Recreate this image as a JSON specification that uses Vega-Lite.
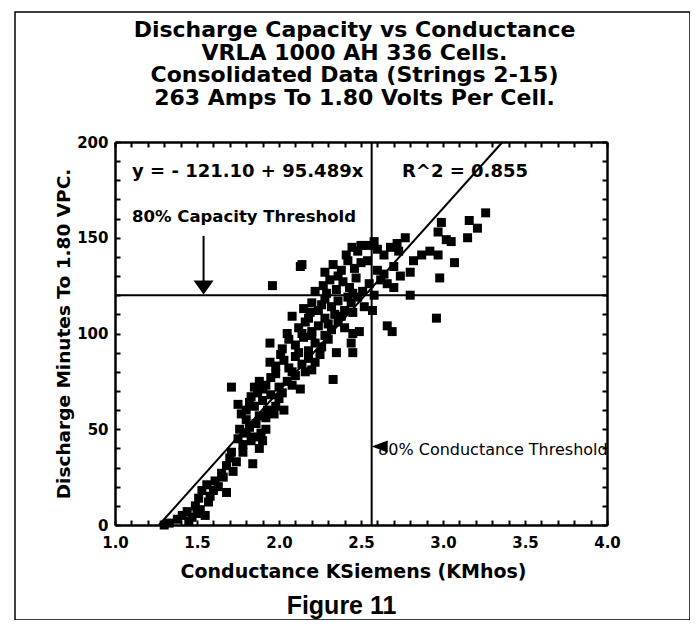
{
  "$schema": "https://vega.github.io/schema/vega-lite/v6.json",
  "width": 675,
  "height": 608,
  "autosize": {"type": "none"},
  "padding": {"left": 15, "top": 12, "right": 0, "bottom": 0},
  "background": "white",
  "config": {
    "font": "DejaVu Sans",
    "view": {"stroke": "black", "strokeWidth": 1.5},
    "axis": {"grid": false, "domainColor": "black", "domainWidth": 2.5, "ticks": true, "tickColor": "black", "tickWidth": 2, "labelColor": "black", "titleColor": "black", "labelFlush": false, "labelOverlap": false}
  },
  "title": {
    "text": ["Discharge Capacity vs Conductance", "VRLA 1000 AH 336 Cells.", "Consolidated Data (Strings 2-15)", "263 Amps To 1.80 Volts Per Cell."],
    "anchor": "middle", "frame": "group", "offset": -98, "dx": 2,
    "font": "DejaVu Sans", "fontSize": 22, "fontWeight": "bold", "lineHeight": 22.7, "color": "black"
  },
  "datasets": {
    "points": [
      {"c":1.30,"m":0},{"c":1.33,"m":1},{"c":1.38,"m":3},{"c":1.41,"m":5},{"c":1.44,"m":7},{"c":1.47,"m":4},{"c":1.50,"m":6},{"c":1.52,"m":8},{"c":1.55,"m":5},{"c":1.45,"m":2},{"c":1.49,"m":10},
      {"c":1.51,"m":14},{"c":1.53,"m":18},{"c":1.56,"m":21},{"c":1.58,"m":15},{"c":1.60,"m":18},{"c":1.57,"m":12},{"c":1.63,"m":20},{"c":1.68,"m":17},{"c":1.61,"m":23},
      {"c":1.65,"m":27},{"c":1.68,"m":31},{"c":1.70,"m":35},{"c":1.72,"m":28},{"c":1.66,"m":25},{"c":1.74,"m":33},{"c":1.84,"m":32},{"c":1.78,"m":38},{"c":1.71,"m":38},
      {"c":1.75,"m":45},{"c":1.78,"m":42},{"c":1.80,"m":48},{"c":1.82,"m":51},{"c":1.85,"m":46},{"c":1.88,"m":40},{"c":1.90,"m":44},{"c":1.86,"m":53},{"c":1.76,"m":50},{"c":1.92,"m":50},{"c":1.83,"m":44},{"c":1.80,"m":55},{"c":1.89,"m":48},
      {"c":1.77,"m":58},{"c":1.75,"m":63},{"c":1.80,"m":60},{"c":1.85,"m":62},{"c":1.88,"m":57},{"c":1.90,"m":65},{"c":1.93,"m":60},{"c":1.95,"m":68},{"c":1.98,"m":62},{"c":2.00,"m":66},{"c":1.83,"m":67},{"c":1.87,"m":69},{"c":1.92,"m":56},{"c":2.03,"m":60},{"c":1.82,"m":64},{"c":1.97,"m":58},
      {"c":1.71,"m":72},{"c":1.85,"m":72},{"c":1.88,"m":75},{"c":1.92,"m":73},{"c":1.95,"m":77},{"c":2.00,"m":72},{"c":2.05,"m":75},{"c":2.10,"m":78},{"c":2.13,"m":71},{"c":1.98,"m":79},{"c":2.02,"m":69},{"c":1.90,"m":71},{"c":2.08,"m":73},
      {"c":1.945,"m":85},{"c":1.98,"m":83},{"c":2.03,"m":86},{"c":2.06,"m":82},{"c":2.10,"m":88},{"c":2.14,"m":84},{"c":2.18,"m":87},{"c":2.20,"m":81},{"c":2.25,"m":89},{"c":2.33,"m":76},{"c":2.08,"m":80},{"c":2.22,"m":85},{"c":2.01,"m":89},{"c":2.16,"m":80},
      {"c":1.945,"m":95},{"c":2.02,"m":92},{"c":2.06,"m":97},{"c":2.10,"m":94},{"c":2.15,"m":98},{"c":2.18,"m":91},{"c":2.22,"m":95},{"c":2.26,"m":93},{"c":2.30,"m":97},{"c":2.35,"m":90},{"c":2.12,"m":90},{"c":2.28,"m":99},{"c":2.05,"m":100},{"c":2.20,"m":99},{"c":2.44,"m":95},{"c":2.45,"m":90},
      {"c":2.08,"m":109},{"c":2.12,"m":103},{"c":2.16,"m":106},{"c":2.20,"m":101},{"c":2.24,"m":104},{"c":2.28,"m":108},{"c":2.32,"m":102},{"c":2.36,"m":106},{"c":2.40,"m":103},{"c":2.45,"m":100},{"c":2.49,"m":101},{"c":2.18,"m":108},{"c":2.30,"m":105},{"c":2.45,"m":111},{"c":2.14,"m":100},{"c":2.38,"m":109},
      {"c":2.15,"m":113},{"c":2.20,"m":116},{"c":2.24,"m":112},{"c":2.28,"m":118},{"c":2.32,"m":114},{"c":2.36,"m":117},{"c":2.40,"m":112},{"c":2.44,"m":116},{"c":2.48,"m":119},{"c":2.52,"m":114},{"c":2.57,"m":112},{"c":2.34,"m":110},{"c":2.26,"m":115},{"c":2.19,"m":111},{"c":2.42,"m":119},
      {"c":2.22,"m":122},{"c":2.27,"m":125},{"c":2.31,"m":128},{"c":2.35,"m":123},{"c":2.39,"m":127},{"c":2.43,"m":124},{"c":2.47,"m":129},{"c":2.51,"m":122},{"c":2.55,"m":126},{"c":2.58,"m":120},{"c":2.62,"m":128},{"c":2.66,"m":126},{"c":2.70,"m":124},{"c":2.29,"m":121},{"c":2.45,"m":121},
      {"c":2.13,"m":135},{"c":2.28,"m":132},{"c":2.33,"m":136},{"c":2.38,"m":133},{"c":2.42,"m":138},{"c":2.46,"m":134},{"c":2.50,"m":137},{"c":2.54,"m":138},{"c":2.60,"m":133},{"c":2.64,"m":131},{"c":2.70,"m":135},{"c":2.74,"m":130},{"c":2.80,"m":132},{"c":2.82,"m":138},{"c":2.36,"m":130},
      {"c":2.41,"m":141},{"c":2.445,"m":145},{"c":2.50,"m":146},{"c":2.55,"m":146},{"c":2.60,"m":144},{"c":2.64,"m":141},{"c":2.68,"m":145},{"c":2.72,"m":147},{"c":2.77,"m":150},{"c":2.73,"m":143},{"c":2.58,"m":148},{"c":2.48,"m":143},
      {"c":1.96,"m":125},{"c":2.14,"m":136},{"c":2.92,"m":143},{"c":2.97,"m":141},{"c":2.99,"m":158},{"c":2.97,"m":153},{"c":3.02,"m":149},{"c":3.05,"m":148},{"c":3.07,"m":137},{"c":2.98,"m":129},{"c":3.15,"m":150},{"c":3.16,"m":159},{"c":3.21,"m":155},{"c":3.26,"m":163},{"c":2.80,"m":120},{"c":2.96,"m":108},{"c":2.66,"m":104},{"c":2.69,"m":101},{"c":2.57,"m":112},{"c":2.87,"m":141}
    ],
    "fit": [{"c":1.268,"m":0},{"c":3.363,"m":200}],
    "hrules": [{"c":1,"c2":4,"m":120}],
    "vrules": [{"c":2.565,"m":0,"m2":200},{"c":1.54,"m":151,"m2":126}],
    "eq": [{"c":1.104,"m":184.3,"t":"y = - 121.10 + 95.489x"},{"c":2.75,"m":184.3,"t":"R^2 = 0.855"}],
    "cap": [{"c":1.104,"m":160.8,"t":"80% Capacity Threshold"}],
    "cond": [{"c":2.604,"m":39,"t":"80% Conductance Threshold"}],
    "capHead": [{"c":1.54,"m":124}],
    "condHead": [{"c":2.614,"m":41}]
  },
  "layer": [
    {
      "data": {"name": "fit"},
      "mark": {"type": "line", "color": "black", "strokeWidth": 2},
      "encoding": {
        "x": {"field": "c", "type": "quantitative",
          "scale": {"domain": [1, 4], "range": [100, 592], "nice": false, "zero": false},
          "axis": {"orient": "bottom", "offset": -95,
            "values": [1,1.1,1.2,1.3,1.4,1.5,1.6,1.7,1.8,1.9,2,2.1,2.2,2.3,2.4,2.5,2.6,2.7,2.8,2.9,3,3.1,3.2,3.3,3.4,3.5,3.6,3.7,3.8,3.9,4],
            "labelExpr": "abs(datum.value*2-round(datum.value*2))<0.001 ? format(datum.value,'.1f') : ''",
            "tickSize": -5,
            "labelPadding": 15, "labelFont": "DejaVu Sans", "labelFontWeight": "bold", "labelFontSize": 15,
            "title": "Conductance KSiemens (KMhos)", "titleFont": "DejaVu Sans", "titleFontWeight": "bold", "titleFontSize": 19, "titlePadding": 12, "titleX": 338}},
        "y": {"field": "m", "type": "quantitative",
          "scale": {"domain": [0, 200], "range": [513, 130], "nice": false, "zero": false},
          "axis": {"orient": "left", "offset": -100,
            "values": [0,10,20,30,40,50,60,70,80,90,100,110,120,130,140,150,160,170,180,190,200],
            "labelExpr": "datum.value % 50 === 0 ? datum.label : ''",
            "tickSize": -5,
            "labelPadding": 12, "labelFont": "DejaVu Sans", "labelFontWeight": "bold", "labelFontSize": 15,
            "title": "Discharge Minutes To 1.80 VPC.", "titleFont": "DejaVu Sans", "titleFontWeight": "bold", "titleFontSize": 18.5, "titlePadding": 3}}
      }
    },
    {
      "data": {"name": "points"},
      "mark": {"type": "square", "filled": true, "color": "black", "opacity": 1, "size": 81},
      "encoding": {
        "x": {"field": "c", "type": "quantitative",
          "scale": {"domain": [1, 4], "range": [100, 592], "nice": false, "zero": false},
          "axis": {"orient": "top", "offset": -130, "labels": false, "title": null,
            "values": [1,1.1,1.2,1.3,1.4,1.5,1.6,1.7,1.8,1.9,2,2.1,2.2,2.3,2.4,2.5,2.6,2.7,2.8,2.9,3,3.1,3.2,3.3,3.4,3.5,3.6,3.7,3.8,3.9,4],
            "tickSize": -5}},
        "y": {"field": "m", "type": "quantitative",
          "scale": {"domain": [0, 200], "range": [513, 130], "nice": false, "zero": false},
          "axis": {"orient": "right", "offset": -83, "labels": false,
            "values": [0,10,20,30,40,50,60,70,80,90,100,110,120,130,140,150,160,170,180,190,200],
            "tickSize": -5,
            "title": "Figure 11", "titleAngle": 0, "titleX": -266, "titleY": 593, "titleAlign": "center", "titleBaseline": "middle",
            "titleFont": "Liberation Sans", "titleFontWeight": "bold", "titleFontSize": 25}}
      }
    },
    {
      "data": {"name": "hrules"},
      "mark": {"type": "rule", "color": "black", "strokeWidth": 2},
      "encoding": {
        "x": {"field": "c", "type": "quantitative", "axis": null},
        "x2": {"field": "c2"},
        "y": {"field": "m", "type": "quantitative", "axis": null}
      }
    },
    {
      "data": {"name": "vrules"},
      "mark": {"type": "rule", "color": "black", "strokeWidth": 2},
      "encoding": {
        "x": {"field": "c", "type": "quantitative", "axis": null},
        "y": {"field": "m", "type": "quantitative", "axis": null},
        "y2": {"field": "m2"}
      }
    },
    {
      "data": {"name": "capHead"},
      "mark": {"type": "point", "shape": "M-1,-0.7L1,-0.7L0,0.7Z", "filled": true, "color": "black", "opacity": 1, "size": 400},
      "encoding": {
        "x": {"field": "c", "type": "quantitative", "axis": null},
        "y": {"field": "m", "type": "quantitative", "axis": null}
      }
    },
    {
      "data": {"name": "condHead"},
      "mark": {"type": "point", "shape": "M-1,0L1,-0.75L1,0.75Z", "filled": true, "color": "black", "opacity": 1, "size": 256},
      "encoding": {
        "x": {"field": "c", "type": "quantitative", "axis": null},
        "y": {"field": "m", "type": "quantitative", "axis": null}
      }
    },
    {
      "data": {"name": "eq"},
      "mark": {"type": "text", "align": "left", "baseline": "middle", "font": "DejaVu Sans", "fontWeight": "bold", "fontSize": 18, "color": "black"},
      "encoding": {
        "x": {"field": "c", "type": "quantitative", "axis": null},
        "y": {"field": "m", "type": "quantitative", "axis": null},
        "text": {"field": "t"}
      }
    },
    {
      "data": {"name": "cap"},
      "mark": {"type": "text", "align": "left", "baseline": "middle", "font": "DejaVu Sans", "fontWeight": "bold", "fontSize": 16.5, "color": "black"},
      "encoding": {
        "x": {"field": "c", "type": "quantitative", "axis": null},
        "y": {"field": "m", "type": "quantitative", "axis": null},
        "text": {"field": "t"}
      }
    },
    {
      "data": {"name": "cond"},
      "mark": {"type": "text", "align": "left", "baseline": "middle", "font": "DejaVu Sans", "fontWeight": "normal", "fontSize": 16, "color": "black"},
      "encoding": {
        "x": {"field": "c", "type": "quantitative", "axis": null},
        "y": {"field": "m", "type": "quantitative", "axis": null},
        "text": {"field": "t"}
      }
    }
  ]
}
